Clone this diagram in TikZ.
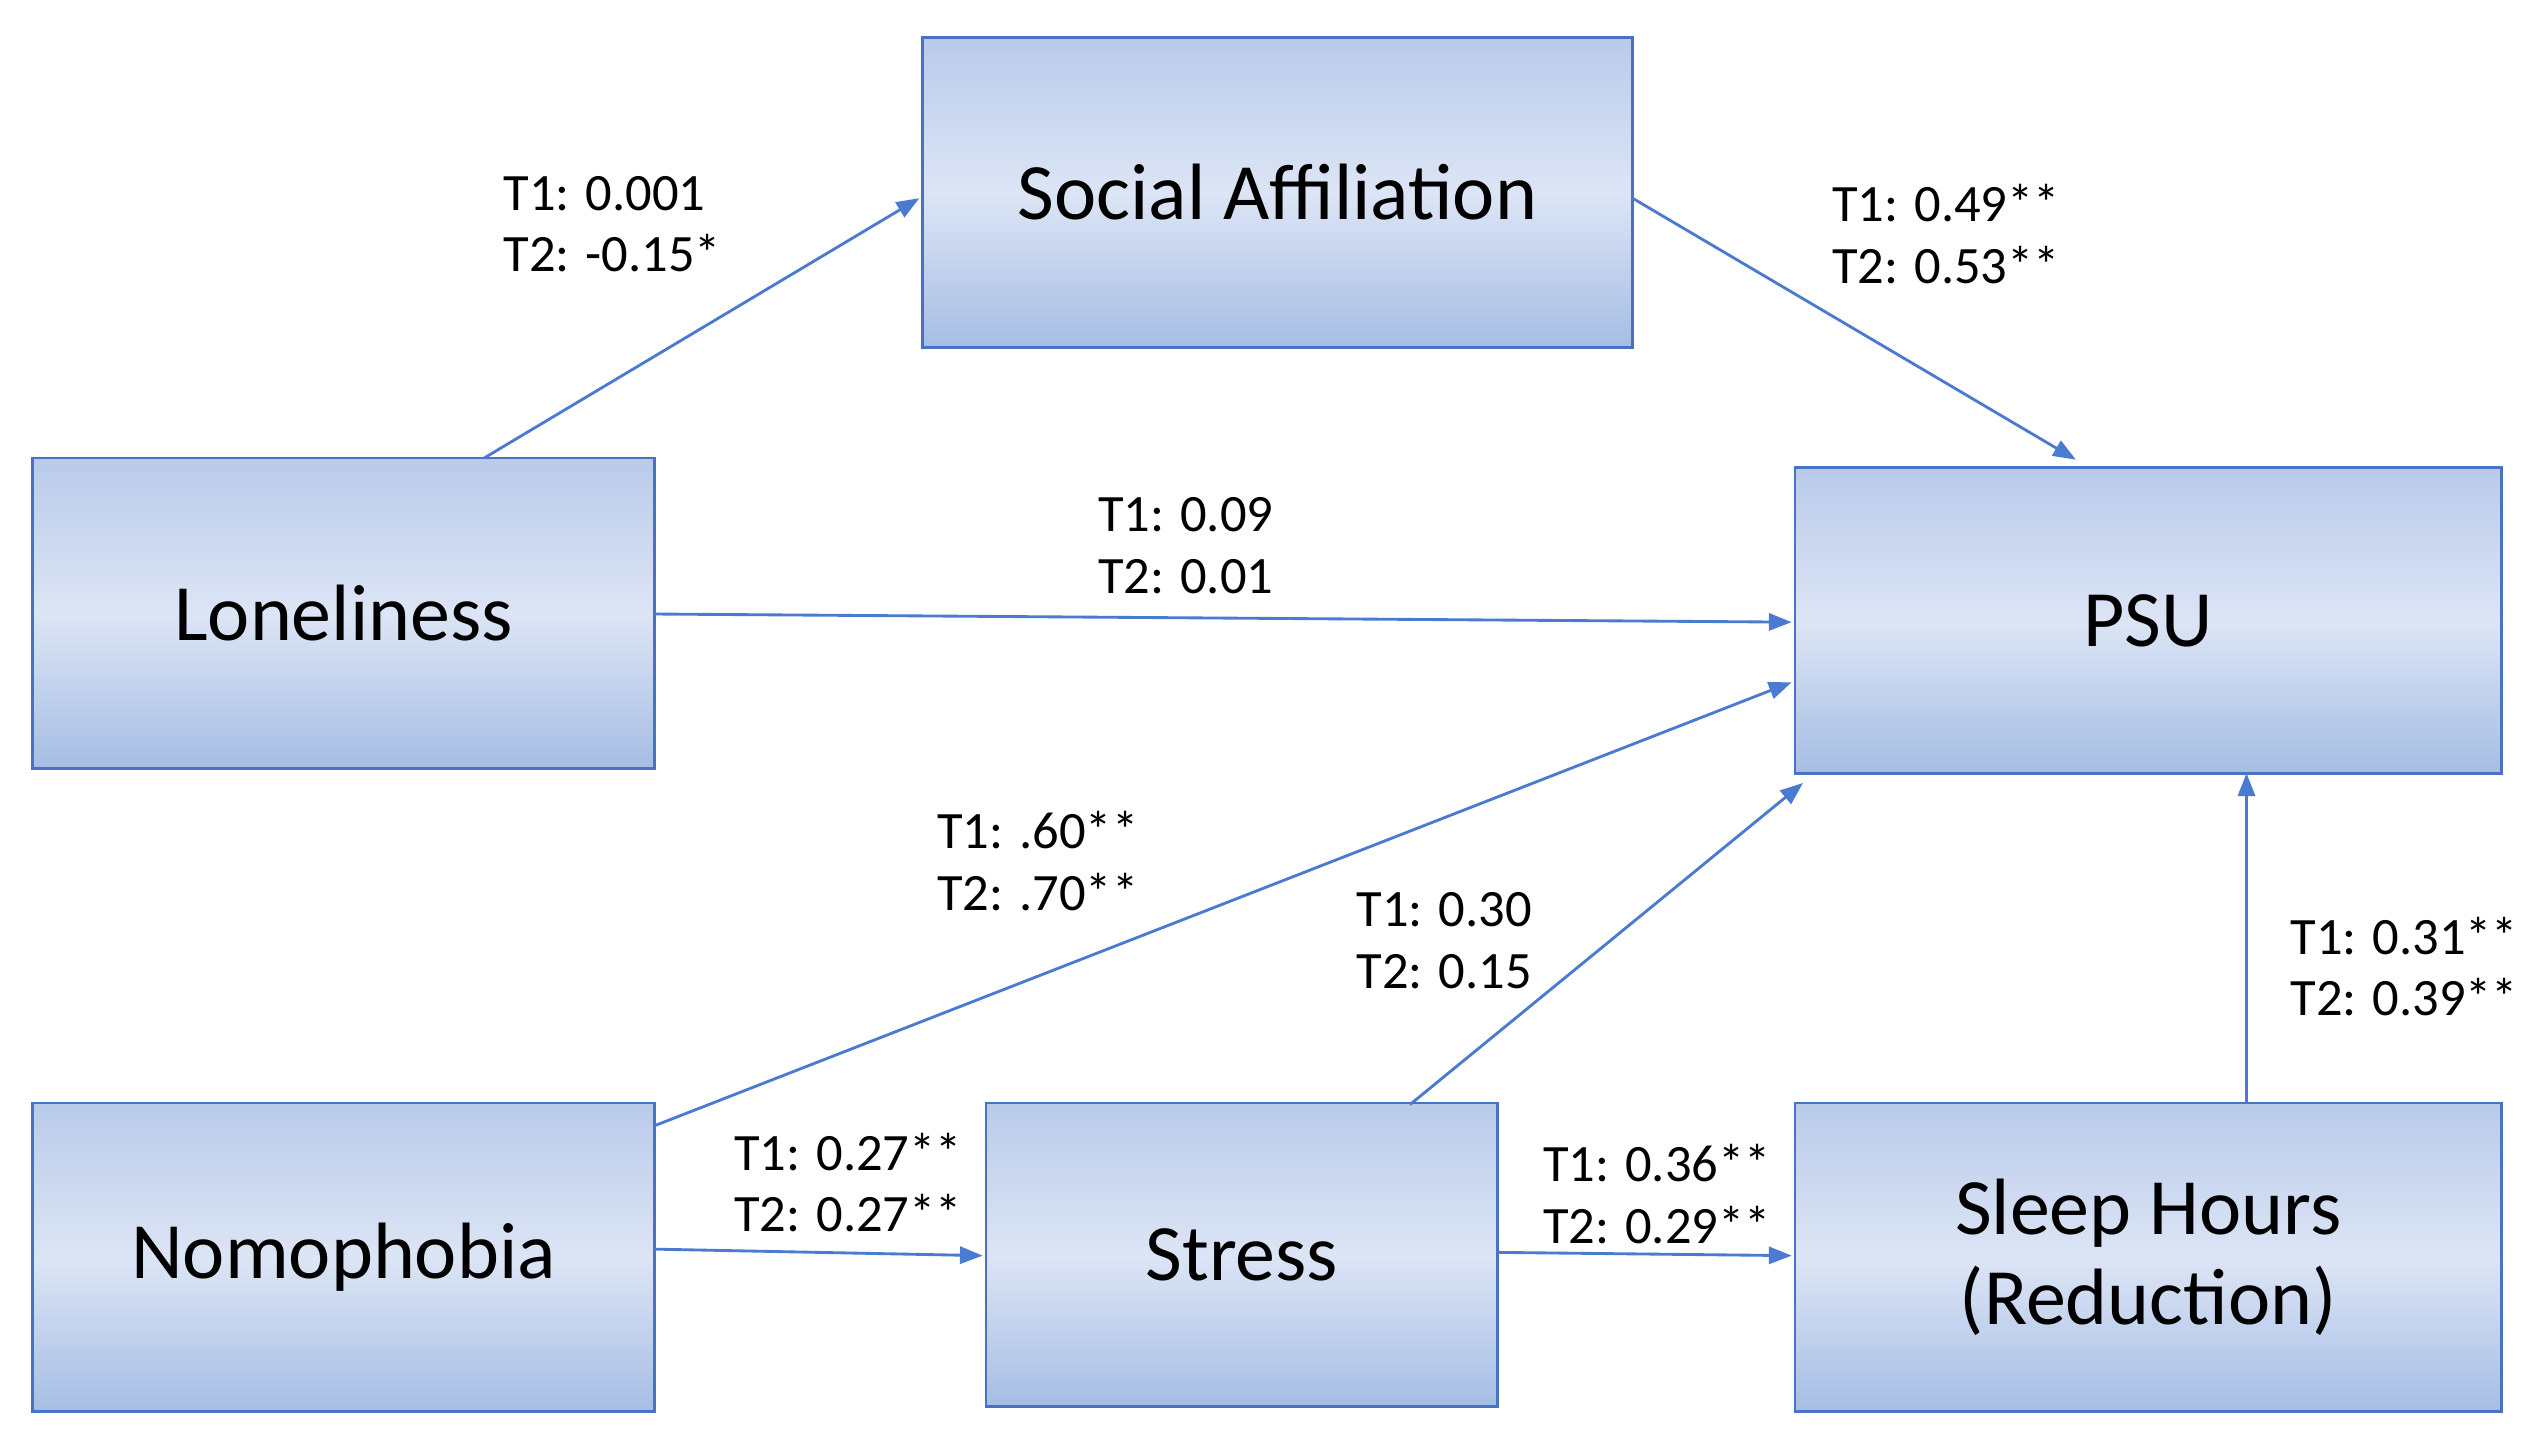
\documentclass[tikz,border=0pt]{standalone}
\usepackage{fontspec}
\setmainfont{Carlito}
\usetikzlibrary{arrows.meta}
\definecolor{bord}{HTML}{4A72C4}
\definecolor{arr}{HTML}{4A7BD0}
\definecolor{topc}{HTML}{B9CAEA}
\definecolor{midc}{HTML}{DCE5F5}
\definecolor{botc}{HTML}{A6BDE4}
\tikzset{
 x=0.1cm,y=-0.1cm,
 box/.style={draw=bord,line width=5pt,top color=topc,bottom color=botc,middle color=midc,inner sep=0pt,font=\fontsize{140}{158}\selectfont,align=center},
 con/.style={draw=arr,line width=5pt,-{Triangle[length=40pt,width=30pt]}},
 lab/.style={anchor=west,align=left,font=\fontsize{92}{108}\selectfont,inner sep=0pt}
}
\begin{document}
\begin{tikzpicture}
\useasboundingbox (0,0) rectangle (1560,890);
\node[box,minimum width=437*0.1cm,minimum height=191*0.1cm] (soc) at (786.5,118.5) {Social Affiliation};
\node[box,minimum width=383*0.1cm,minimum height=191*0.1cm] (lon) at (211.5,377.5) {Loneliness};
\node[box,minimum width=435*0.1cm,minimum height=188*0.1cm] (psu) at (1322.5,382) {PSU};
\node[box,minimum width=383*0.1cm,minimum height=190*0.1cm] (nom) at (211.5,774) {Nomophobia};
\node[box,minimum width=315*0.1cm,minimum height=187*0.1cm] (str) at (764.5,772.5) {Stress};
\node[box,minimum width=435*0.1cm,minimum height=190*0.1cm] (slp) at (1322.5,774) {Sleep Hours\\(Reduction)};
\coordinate (a1) at (298,282); \coordinate (a2) at (566,122);
\coordinate (b1) at (1005,122); \coordinate (b2) at (1278,283);
\coordinate (c1) at (403,378); \coordinate (c2) at (1103,383);
\coordinate (d1) at (403,693); \coordinate (d2) at (1103,420);
\coordinate (e1) at (403,769); \coordinate (e2) at (605,773);
\coordinate (f1) at (868,680); \coordinate (f2) at (1110,482);
\coordinate (g1) at (922,771); \coordinate (g2) at (1103,773);
\coordinate (h1) at (1383,679); \coordinate (h2) at (1383,476);
\draw[con] (a1) -- (a2);
\draw[con] (b1) -- (b2);
\draw[con] (c1) -- (c2);
\draw[con] (d1) -- (d2);
\draw[con] (e1) -- (e2);
\draw[con] (f1) -- (f2);
\draw[con] (g1) -- (g2);
\draw[con] (h1) -- (h2);
\node[lab] (l1) at (310,138) {T1: 0.001\\T2: -0.15*};
\node[lab] (l2) at (1128,144) {T1: 0.49**\\T2: 0.53**};
\node[lab] (l3) at (676,336) {T1: 0.09\\T2: 0.01};
\node[lab] (l4) at (577,530) {T1: .60**\\T2: .70**};
\node[lab] (l5) at (835,579) {T1: 0.30\\T2: 0.15};
\node[lab] (l6) at (1410,595) {T1: 0.31**\\T2: 0.39**};
\node[lab] (l7) at (452,728) {T1: 0.27**\\T2: 0.27**};
\node[lab] (l8) at (950,735) {T1: 0.36**\\T2: 0.29**};
\end{tikzpicture}
\end{document}
